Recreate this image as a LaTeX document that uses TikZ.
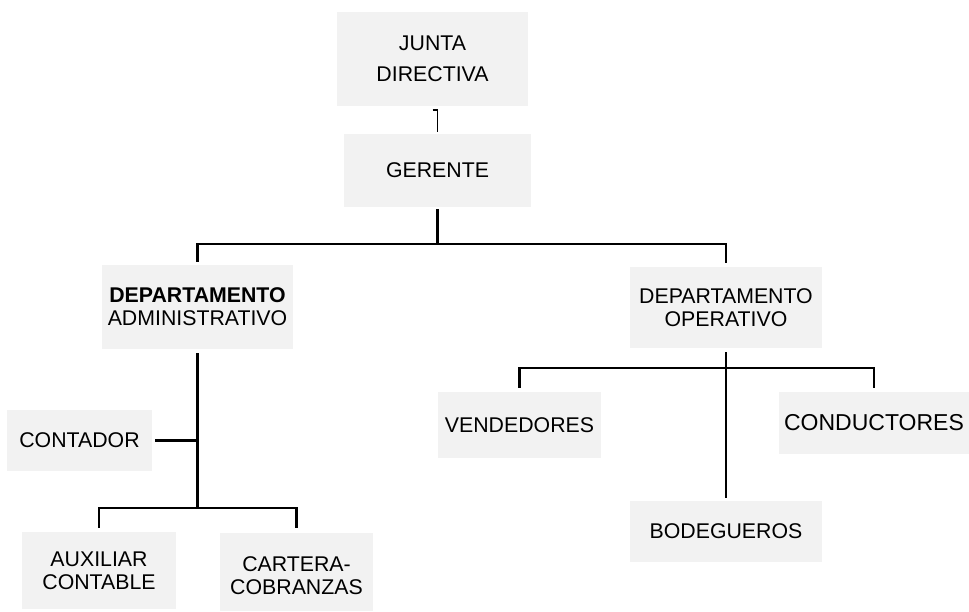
\documentclass[tikz,border=0pt]{standalone}
\usepackage{fontspec}
\setmainfont{Liberation Sans}
\usetikzlibrary{calc}
\definecolor{boxgray}{HTML}{F2F2F2}
\tikzset{
  orgbox/.style={fill=boxgray, draw=none, inner sep=0pt, align=center,
    font=\fontsize{21.3}{23}\selectfont},
  conn/.style={draw=black, line width=2.4pt},
  thinconn/.style={draw=black, line width=1.8pt}
}
\begin{document}
\begin{tikzpicture}[x=1pt, y=-1pt]
\useasboundingbox (0,0) rectangle (969,612);

\node[orgbox, minimum width=191pt, minimum height=94pt] (junta) at (432.5,59) {JUNTA\\[8pt]DIRECTIVA};
\node[orgbox, minimum width=187pt, minimum height=73pt] (ger) at (437.5,170.5) {GERENTE};
\node[orgbox, minimum width=191pt, minimum height=84pt] (da) at (197.5,307) {\textbf{DEPARTAMENTO}\\ADMINISTRATIVO};
\node[orgbox, minimum width=192pt, minimum height=81pt] (dop) at (726,307.5) {DEPARTAMENTO\\OPERATIVO};
\node[orgbox, minimum width=145pt, minimum height=61pt] (cont) at (79.5,440.5) {CONTADOR};
\node[orgbox, minimum width=154pt, minimum height=77pt] (aux) at (99,570.5) {AUXILIAR\\CONTABLE};
\node[orgbox, minimum width=153pt, minimum height=78pt] (cart) at (296.5,571.5) {\raisebox{-12pt}[0pt][0pt]{\begin{tabular}{@{}c@{}}CARTERA-\\COBRANZAS\end{tabular}}};
\node[orgbox, minimum width=163pt, minimum height=66pt] (vend) at (519.5,425) {VENDEDORES};
\node[orgbox, minimum width=190pt, minimum height=62pt, font=\fontsize{23}{26}\selectfont] (cond) at (874,423) {CONDUCTORES};
\node[orgbox, minimum width=192pt, minimum height=61pt] (bod) at (726,531.5) {BODEGUEROS};

% junta -> gerente
\draw[thinconn] ($(junta.south)+(0,4)$) -| ($(ger.north)+(0,-2)$);

% gerente -> departments
\coordinate (j1) at ($(ger.south)+(0,37)$);
\draw[conn] ($(ger.south)+(0,2)$) -- (j1);
\draw[conn] ($(da.north)+(0,-3)$) |- (j1) -| ($(dop.north)+(0,-4)$);

% administrative branch
\coordinate (j2) at ($(da.south)+(0,159)$);
\draw[conn] ($(da.south)+(0,4)$) -- (j2);
\draw[conn] ($(cont.east)+(3,0)$) -- (cont.east -| da.south);
\draw[conn] ($(aux.north)+(0,-4)$) |- (j2) -| ($(cart.north)+(0,-4)$);

% operative branch
\coordinate (j3) at ($(dop.south)+(0,20)$);
\draw[conn] ($(dop.south)+(0,4)$) -- ($(bod.north)+(0,-3)$);
\draw[conn] ($(vend.north)+(0,-4)$) |- (j3) -| ($(cond.north)+(0,-4)$);
\end{tikzpicture}
\end{document}
